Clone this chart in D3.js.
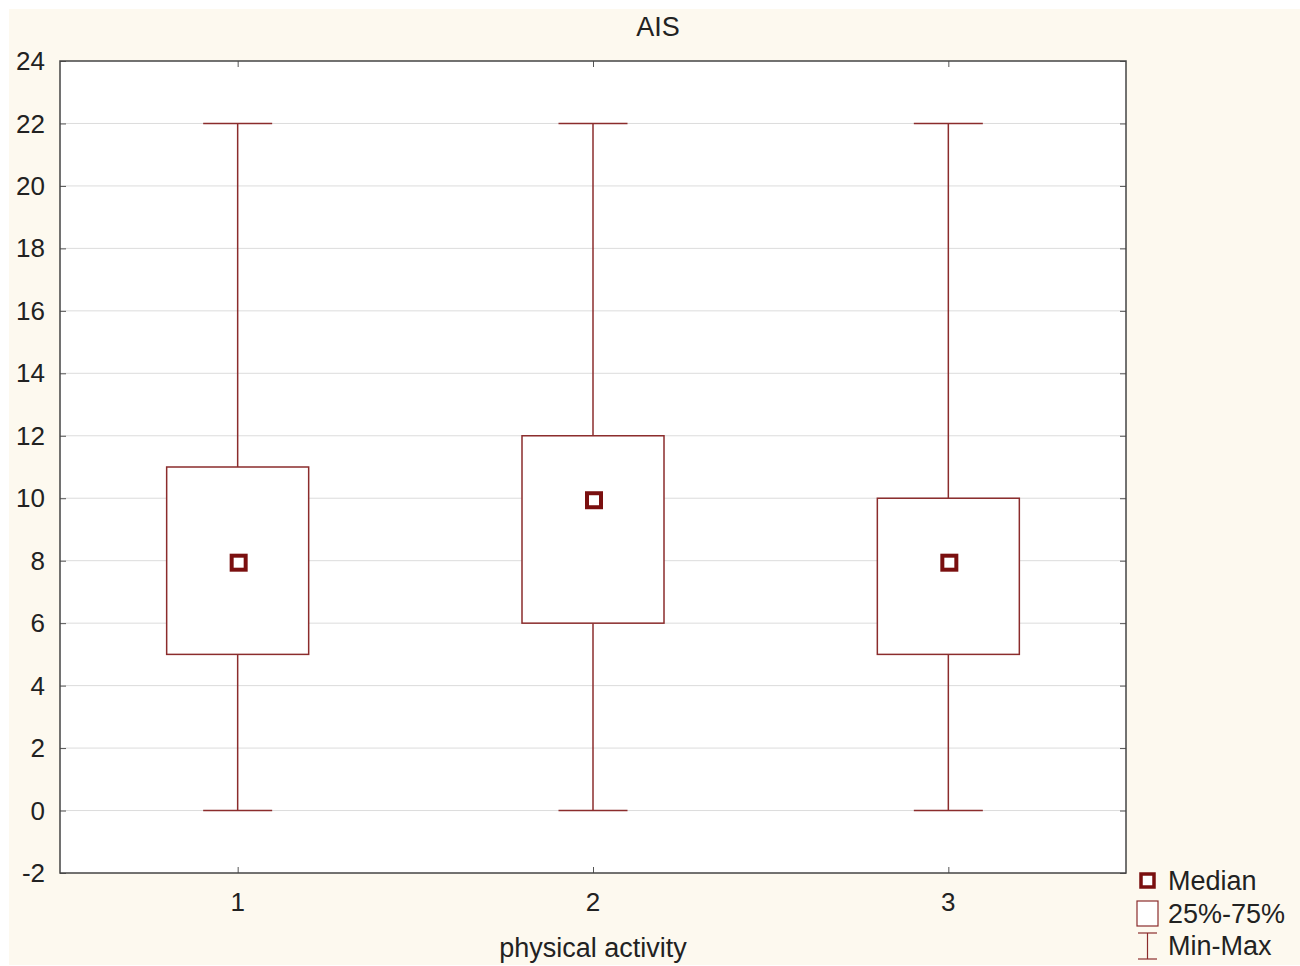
<!DOCTYPE html>
<html>
<head>
<meta charset="utf-8">
<script src="https://cdn.jsdelivr.net/npm/d3@7"></script>
<style>
  body { margin: 0; background: #fff; }
  text { font-family: "Liberation Sans", Arial, sans-serif; fill: #222; }
</style>
</head>
<body>
<div id="chart"></div>
<script>
// box plot data
const groups = [1, 2, 3];
const mins = [0, 0, 0];
const q1s = [5, 6, 5];
const medians = [8, 10, 8];
const q3s = [11, 12, 10];
const maxs = [22, 22, 22];
const yTicks = [-2, 0, 2, 4, 6, 8, 10, 12, 14, 16, 18, 20, 22, 24];

const width = 1300, height = 966;
const margin = {left: 60, right: 174, top: 61, bottom: 93};
const boxColor = "#8b2c2c";
const medColor = "#7a0f0f";

const svg = d3.select("#chart").append("svg")
  .attr("width", width)
  .attr("height", height);

// cream page background with a thin white border
svg.append("rect")
  .attr("x", 9).attr("y", 9)
  .attr("width", width - 9).attr("height", height - 10)
  .attr("fill", "#fdf9ef");

const x = d3.scaleLinear()
  .domain([0.5, 3.5])
  .range([margin.left, width - margin.right]);

const y = d3.scaleLinear()
  .domain([-2, 24])
  .range([height - margin.bottom, margin.top]);

// plot area
svg.append("rect")
  .attr("x", margin.left).attr("y", margin.top)
  .attr("width", width - margin.right - margin.left)
  .attr("height", height - margin.bottom - margin.top)
  .attr("fill", "#fff");

// grid lines
svg.append("g")
  .selectAll("line")
  .data(yTicks.slice(1, -1))
  .join("line")
    .attr("x1", margin.left).attr("x2", width - margin.right)
    .attr("y1", d => y(d)).attr("y2", d => y(d))
    .attr("stroke", "#dcdcdc")
    .attr("stroke-width", 1);

// axes, ticks pointing inward
svg.append("g")
  .attr("transform", `translate(${margin.left},0)`)
  .call(d3.axisRight(y).tickValues(yTicks).tickSize(6).tickFormat(""))
  .call(g => g.select(".domain").remove())
  .call(g => g.selectAll("line").attr("stroke", "#555"));

svg.append("g")
  .attr("transform", `translate(${width - margin.right},0)`)
  .call(d3.axisLeft(y).tickValues(yTicks).tickSize(6).tickFormat(""))
  .call(g => g.select(".domain").remove())
  .call(g => g.selectAll("line").attr("stroke", "#555"));

svg.append("g")
  .attr("transform", `translate(0,${height - margin.bottom})`)
  .call(d3.axisTop(x).tickValues(groups).tickSize(6).tickFormat(""))
  .call(g => g.select(".domain").remove())
  .call(g => g.selectAll("line").attr("stroke", "#555"));

svg.append("g")
  .attr("transform", `translate(0,${margin.top})`)
  .call(d3.axisBottom(x).tickValues(groups).tickSize(6).tickFormat(""))
  .call(g => g.select(".domain").remove())
  .call(g => g.selectAll("line").attr("stroke", "#555"));

// y labels
svg.append("g")
  .selectAll("text")
  .data(yTicks)
  .join("text")
    .attr("x", margin.left - 15)
    .attr("y", d => y(d))
    .attr("dy", "0.35em")
    .attr("text-anchor", "end")
    .attr("font-size", 26)
    .text(d => d);

// x labels
svg.append("g")
  .selectAll("text")
  .data(groups)
  .join("text")
    .attr("x", d => x(d))
    .attr("y", height - margin.bottom + 38)
    .attr("text-anchor", "middle")
    .attr("font-size", 26)
    .text(d => d);

// frame
svg.append("rect")
  .attr("x", margin.left).attr("y", margin.top)
  .attr("width", width - margin.right - margin.left)
  .attr("height", height - margin.bottom - margin.top)
  .attr("fill", "none")
  .attr("stroke", "#444")
  .attr("stroke-width", 1.5);

// boxes
const boxW = 142, capW = 69, medS = 14;
const items = groups.map((g, i) => ({g, min: mins[i], q1: q1s[i], med: medians[i], q3: q3s[i], max: maxs[i]}));

const bx = svg.append("g").selectAll("g").data(items).join("g");

bx.append("line")
  .attr("x1", d => x(d.g)).attr("x2", d => x(d.g))
  .attr("y1", d => y(d.max)).attr("y2", d => y(d.q3))
  .attr("stroke", boxColor).attr("stroke-width", 1.5);
bx.append("line")
  .attr("x1", d => x(d.g)).attr("x2", d => x(d.g))
  .attr("y1", d => y(d.q1)).attr("y2", d => y(d.min))
  .attr("stroke", boxColor).attr("stroke-width", 1.5);
bx.append("line")
  .attr("x1", d => x(d.g) - capW / 2).attr("x2", d => x(d.g) + capW / 2)
  .attr("y1", d => y(d.max)).attr("y2", d => y(d.max))
  .attr("stroke", boxColor).attr("stroke-width", 1.5);
bx.append("line")
  .attr("x1", d => x(d.g) - capW / 2).attr("x2", d => x(d.g) + capW / 2)
  .attr("y1", d => y(d.min)).attr("y2", d => y(d.min))
  .attr("stroke", boxColor).attr("stroke-width", 1.5);
bx.append("rect")
  .attr("x", d => x(d.g) - boxW / 2)
  .attr("y", d => y(d.q3))
  .attr("width", boxW)
  .attr("height", d => y(d.q1) - y(d.q3))
  .attr("fill", "#fff")
  .attr("stroke", boxColor).attr("stroke-width", 1.5);
bx.append("rect")
  .attr("x", d => x(d.g) - medS / 2 + 1)
  .attr("y", d => y(d.med) - medS / 2 + 2)
  .attr("width", medS).attr("height", medS)
  .attr("fill", "#fff")
  .attr("stroke", medColor).attr("stroke-width", 4);

// title and axis label
svg.append("text")
  .attr("x", 658)
  .attr("y", 36)
  .attr("text-anchor", "middle")
  .attr("font-size", 27)
  .text("AIS");

svg.append("text")
  .attr("x", x(2))
  .attr("y", 957)
  .attr("text-anchor", "middle")
  .attr("font-size", 27)
  .text("physical activity");

// legend
const lg = svg.append("g").attr("transform", "translate(1136,0)");
lg.append("rect")
  .attr("x", 5).attr("y", 874).attr("width", 13).attr("height", 13)
  .attr("fill", "#fff").attr("stroke", medColor).attr("stroke-width", 3.5);
lg.append("rect")
  .attr("x", 1).attr("y", 901).attr("width", 21).attr("height", 25)
  .attr("fill", "#fff").attr("stroke", boxColor).attr("stroke-width", 1.2);
lg.append("line").attr("x1", 11.5).attr("x2", 11.5).attr("y1", 933).attr("y2", 959)
  .attr("stroke", boxColor).attr("stroke-width", 1.2);
lg.append("line").attr("x1", 2).attr("x2", 21).attr("y1", 933).attr("y2", 933)
  .attr("stroke", boxColor).attr("stroke-width", 1.2);
lg.append("line").attr("x1", 2).attr("x2", 21).attr("y1", 959).attr("y2", 959)
  .attr("stroke", boxColor).attr("stroke-width", 1.2);
lg.selectAll("text.lab")
  .data(["Median", "25%-75%", "Min-Max"])
  .join("text")
    .attr("class", "lab")
    .attr("x", 32)
    .attr("y", (d, i) => 890 + i * 32.5)
    .attr("font-size", 27)
    .text(d => d);
</script>
</body>
</html>
